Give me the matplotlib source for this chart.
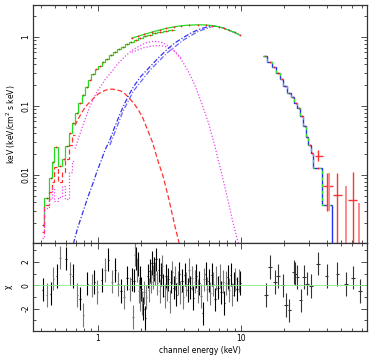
import numpy as np
import matplotlib.pyplot as plt
from matplotlib.ticker import NullFormatter, FixedLocator

# total model, soft data set (bin edges keV, values keV^2 ph/cm2/s/keV)
tot1_edges = [0.404, 0.421, 0.454, 0.479, 0.495, 0.527, 0.563, 0.588, 0.627, 0.655,
              0.69, 0.73, 0.77, 0.81, 0.855, 0.90, 0.95, 1.0, 1.06, 1.12,
              1.19, 1.27, 1.35, 1.44, 1.54, 1.65, 1.77, 1.9, 2.05, 2.2,
              2.4, 2.6, 2.85, 3.1, 3.45]
tot1_vals = [0.0019, 0.0046, 0.009, 0.0156, 0.0252, 0.0135, 0.0169, 0.0263, 0.040, 0.057,
             0.079, 0.11, 0.144, 0.188, 0.238, 0.29, 0.34, 0.38, 0.43, 0.48,
             0.54, 0.6, 0.66, 0.72, 0.78, 0.84, 0.9, 0.96, 1.02, 1.08,
             1.14, 1.19, 1.23, 1.26]

# blackbody component (soft data set)
bb_edges = [0.404, 0.421, 0.454, 0.479, 0.495, 0.527, 0.563, 0.588, 0.627, 0.655, 0.69]
bb_lo = [0.0015, 0.0037, 0.0057, 0.008, 0.013, 0.008, 0.011, 0.017, 0.027, 0.038]
bb_e = [0.69, 0.73, 0.77, 0.81, 0.855, 0.90, 0.95, 1.0, 1.06, 1.12,
        1.19, 1.27, 1.35, 1.44, 1.54, 1.65, 1.77, 1.9, 2.05, 2.2,
        2.4, 2.6, 2.85, 3.1, 3.45, 3.7]
bb_f = [0.052, 0.066, 0.08, 0.095, 0.108, 0.12, 0.135, 0.148, 0.16, 0.168,
        0.174, 0.175, 0.17, 0.165, 0.15, 0.13, 0.11, 0.09, 0.068, 0.047,
        0.03, 0.017, 0.0095, 0.0048, 0.0018, 0.001]

# second thermal component
th1_edges = [0.404, 0.421, 0.454, 0.479, 0.495, 0.527, 0.563, 0.588, 0.627, 0.655, 0.69]
th1_lo = [0.0012, 0.0033, 0.0045, 0.0065, 0.0042, 0.0048, 0.0068, 0.0045, 0.011, 0.016]
th1_e = [0.69, 0.73, 0.77, 0.81, 0.855, 0.90, 0.95, 1.0, 1.06, 1.12,
         1.19, 1.27, 1.35, 1.44, 1.54, 1.65, 1.77, 1.9, 2.05, 2.2,
         2.4, 2.6, 2.85, 3.1, 3.45, 3.8, 4.3, 4.8, 5.3, 5.9,
         6.5, 7.2, 8.0, 8.8, 9.6]
th1_f = [0.024, 0.034, 0.047, 0.063, 0.085, 0.11, 0.14, 0.17, 0.2, 0.24,
         0.28, 0.33, 0.39, 0.45, 0.52, 0.59, 0.66, 0.72, 0.78, 0.83,
         0.86, 0.86, 0.82, 0.74, 0.61, 0.48, 0.31, 0.19, 0.11, 0.058,
         0.028, 0.012, 0.0048, 0.002, 0.001]
th2_e = [1.72, 1.9, 2.1, 2.4, 2.7, 3.0, 3.4, 3.8]
th2_f = [0.6, 0.65, 0.7, 0.74, 0.75, 0.72, 0.63, 0.5]

# hard (power-law) component
pl1_e = [0.672, 0.72, 0.78, 0.85, 0.92, 0.98, 1.05, 1.12, 1.21, 1.3,
         1.4, 1.5, 1.63, 1.77, 2.0, 2.31, 2.65, 3.02, 3.45, 3.95,
         4.4, 5.0, 5.6, 6.2, 6.8, 7.5, 8.3, 9.1, 9.85]
pl1_f = [0.001, 0.0017, 0.0028, 0.0048, 0.0075, 0.011, 0.016, 0.023, 0.032, 0.048,
         0.07, 0.098, 0.14, 0.19, 0.27, 0.37, 0.5, 0.65, 0.82, 0.98,
         1.12, 1.27, 1.37, 1.43, 1.42, 1.35, 1.24, 1.15, 1.07]
pl2_e = [1.21, 1.5, 1.77, 2.31, 3.02, 3.95, 5.0, 6.2]
pl2_f = [0.027, 0.085, 0.165, 0.33, 0.58, 0.9, 1.2, 1.4]

# total model, second data set
tot2_e = [1.72, 1.9, 2.1, 2.4, 2.7, 3.0, 3.4, 3.8, 4.3, 5.0,
          5.7, 6.3, 7.0, 7.6, 8.3, 9.0, 9.9]
tot2_f = [0.96, 1.02, 1.09, 1.18, 1.26, 1.33, 1.40, 1.45, 1.48, 1.50,
          1.49, 1.46, 1.40, 1.33, 1.24, 1.16, 1.05]

# hard X-ray model (bin edges) and data
hx_edges = [14.35, 15.3, 16.4, 17.6, 18.7, 19.8, 21.1, 22.3, 23.5, 24.8,
            25.9, 27.3, 28.5, 29.6, 30.9, 32.1, 36.6, 43.1]
hx_vals = [0.53, 0.44, 0.364, 0.298, 0.244, 0.195, 0.156, 0.134, 0.112, 0.092,
           0.072, 0.051, 0.036, 0.027, 0.0206, 0.0125, 0.0037]

hxd_e = [34.6, 40.1, 47.2, 60.4]
hxd_elo = [32.9, 37.6, 43.6, 56.0]
hxd_ehi = [37.2, 43.6, 50.7, 65.0]
hxd_f = [0.019, 0.0068, 0.0051, 0.0044]
hxd_flo = [0.0157, 0.003, 0.0004, 0.0004]
hxd_fhi = [0.023, 0.0106, 0.0106, 0.011]
hxd2_e = [41.0, 53.9, 66.7]
hxd2_f = [0.0068, 0.0025, 0.002]
hxd2_flo = [0.003, 0.0004, 0.0004]
hxd2_fhi = [0.0106, 0.0068, 0.0039]

# residuals (sigma), soft band
res_e = [0.41, 0.437, 0.467, 0.487, 0.514, 0.542, 0.595, 0.637, 0.665, 0.717,
         0.748, 0.789, 0.842, 0.904, 0.942, 0.989, 1.06, 1.12, 1.18, 1.25,
         1.32, 1.38, 1.45, 1.52, 1.6, 1.66, 1.72, 1.75, 1.78,
         1.80, 1.83, 1.86, 1.89, 1.92, 1.95, 1.98, 2.01, 2.04, 2.07,
         2.10, 2.14, 2.18, 2.22, 2.26, 2.30, 2.34, 2.38, 2.42, 2.46,
         2.50, 2.55, 2.60, 2.65, 2.70, 2.75, 2.80, 2.86, 2.92, 2.98,
         3.04, 3.10, 3.17, 3.24, 3.31, 3.38, 3.45, 3.53, 3.61, 3.69,
         3.77, 3.86, 3.95, 4.04, 4.13, 4.23, 4.33, 4.43, 4.54, 4.65,
         4.76, 4.88, 5.00, 5.12, 5.25, 5.38, 5.51, 5.65, 5.79, 5.94,
         6.09, 6.24, 6.40, 6.56, 6.73, 6.90, 7.08, 7.26, 7.45, 7.64,
         7.84, 8.04, 8.25, 8.46, 8.68, 8.90, 9.13, 9.37, 9.61, 9.86]
res_v = [-0.37, -0.85, -0.71, 0.57, 0.77, 2.36, 2.27, 1.0, 0.8, -0.85,
         -1.13, -2.55, 0.14, 0.0, 0.28, -0.57, 0.43, 1.28, 2.19, 0.3,
         1.3, 0.1, -0.5, -1.0, 0.6, -0.3, 0.5, -2.7, 0.4,
         2.6, 2.3, 1.3, 1.8, -0.5, 0.6, -1.2, -0.3, -1.5, -2.0,
         -0.6, -2.8, -1.0, 0.8, -0.4, 1.2, 0.3, 1.9, 0.7, 1.4,
         1.0, 2.2, 0.2, 1.3, -0.5, 0.9, 1.6, 0.0, -0.9, 0.8,
         -0.3, 0.5, -1.4, 0.3, 1.1, -0.2, 0.6, -0.8, 0.2, 1.0,
         -0.6, 0.4, -1.0, 0.9, 0.1, -0.4, 1.3, -0.2, 0.6, -1.1,
         0.3, 0.8, -0.5, 0.2, -0.9, -2.4, 0.5, 1.0, -0.3, 0.4,
         -0.7, 0.9, 0.1, -1.2, 0.6, -0.2, 0.8, -0.6, 0.3, -1.5,
         0.2, 0.7, -0.4, 0.9, -0.8, 0.1, 0.5, -0.3, 0.4, 0.2]
# residuals (sigma), hard band
res2_e = [14.9, 15.9, 17.3, 18.2, 19.6, 20.7, 21.8, 23.3, 24.0, 24.8,
          26.1, 27.6, 29.0, 30.9, 34.6, 39.6, 47.2, 53.9, 60.4, 67.8]
res2_v = [-0.85, 1.56, 0.28, 0.8, 0.0, -1.7, -2.13, 1.13, 1.0, 0.71,
          -1.28, 0.71, 0.14, -0.08, 1.85, 0.8, 0.94, 0.1, 0.65, -0.48]

fig = plt.figure(figsize=(3.73, 3.58), dpi=100)
ax = fig.add_axes([0.0885, 0.3212, 0.8955, 0.6648])
axr = fig.add_axes([0.0885, 0.0754, 0.8955, 0.2458], sharex=ax)

lw = 0.9
dash = (0, (4, 2))
dot = (0, (1, 1.5))
dashdot = (0, (4, 1.5, 1, 1.5))
ax.stairs(tot1_vals, tot1_edges, color='#22dd22', lw=lw, baseline=None)
ax.stairs(bb_lo, bb_edges, color='#ff3333', lw=lw, ls=dash, baseline=None)
ax.plot(bb_e, bb_f, color='#ff3333', lw=lw, ls=dash)
ax.stairs(th1_lo, th1_edges, color='#ee44ee', lw=lw, ls=dot, baseline=None)
ax.plot(th1_e, th1_f, color='#ee44ee', lw=lw, ls=dot)
ax.plot(th2_e, th2_f, color='#ee44ee', lw=lw, ls=dot)
ax.plot(pl1_e, pl1_f, color='#3333ee', lw=lw, ls=dashdot)
ax.plot(pl2_e, pl2_f, color='#6666ff', lw=lw, ls=dashdot)
ax.plot(tot2_e, tot2_f, color='#22dd22', lw=lw)

# data points on top of the soft model
cen1 = np.sqrt(np.array(tot1_edges[:-1]) * np.array(tot1_edges[1:]))
ax.plot(cen1, tot1_vals, '+', color='#ff2222', ms=2, mew=0.5)
ax.plot(tot2_e, tot2_f, '+', color='#ff2222', ms=2, mew=0.5)

# hard X-ray model and data
ax.stairs(hx_vals, hx_edges, color='#2233ee', lw=1.0, baseline=None)
ax.stairs(hx_vals, hx_edges, color='#33dd33', lw=0.8, ls=(0, (3, 3)), baseline=None)
ax.vlines(hx_edges[-1], 1e-4, hx_vals[-1], color='#2233ee', lw=1.0)
hcen = np.sqrt(np.array(hx_edges[:-1]) * np.array(hx_edges[1:]))
ax.plot(hcen, hx_vals, '+', color='#ff2222', ms=2, mew=0.5)
ax.errorbar(hxd_e, hxd_f,
            xerr=[np.array(hxd_e) - np.array(hxd_elo), np.array(hxd_ehi) - np.array(hxd_e)],
            yerr=[np.array(hxd_f) - np.array(hxd_flo), np.array(hxd_fhi) - np.array(hxd_f)],
            fmt='none', ecolor='#ff3333', elinewidth=1.0)
ax.errorbar(hxd2_e, hxd2_f,
            yerr=[np.array(hxd2_f) - np.array(hxd2_flo), np.array(hxd2_fhi) - np.array(hxd2_f)],
            fmt='none', ecolor='#ff8888', elinewidth=1.4)

ax.set_xscale('log')
ax.set_yscale('log')
ax.set_xlim(0.351, 76)
ax.set_ylim(1.03e-3, 2.9)
ax.set_yticks([0.01, 0.1, 1])
ax.set_yticklabels(['0.01', '0.1', '1'], rotation=90, va='center')
ax.set_ylabel('keV (keV/cm$^2$ s keV)', fontsize=5.5, labelpad=2)
ax.tick_params(labelbottom=False)

# residuals
res_e = np.array(res_e)
res_v = np.array(res_v)
axr.errorbar(res_e[::2], res_v[::2], yerr=1, xerr=res_e[::2] * 0.012,
             fmt='none', ecolor='black', elinewidth=0.8)
axr.errorbar(res_e[1::2], res_v[1::2], yerr=1, xerr=res_e[1::2] * 0.012,
             fmt='none', ecolor='#777777', elinewidth=0.8)
res2_e = np.array(res2_e)
axr.errorbar(res2_e, res2_v, yerr=1, xerr=res2_e * 0.03,
             fmt='none', ecolor='#333333', elinewidth=0.8)
axr.axhline(0, color='#88ee88', lw=0.6)
axr.set_ylim(-3.9, 3.6)
axr.yaxis.set_major_locator(FixedLocator([-2, 0, 2]))
axr.yaxis.set_minor_locator(FixedLocator([-3, -1, 1, 3]))
axr.set_yticklabels(['-2', '0', '2'], rotation=90, va='center')
axr.set_ylabel('χ', fontsize=5.5, labelpad=6)
axr.set_xlabel('channel energy (keV)', fontsize=5.5, labelpad=2)
axr.set_xticks([1, 10])
axr.set_xticklabels(['1', '10'])
axr.xaxis.set_minor_formatter(NullFormatter())

for a in (ax, axr):
    a.tick_params(which='both', direction='in', top=True, right=True,
                  labelsize=5.5, width=0.6, color='#333333', pad=2)
    a.tick_params(which='major', length=4)
    a.tick_params(which='minor', length=2)
    for s in a.spines.values():
        s.set_linewidth(0.9)
        s.set_color('#333333')

fig.savefig('out.png', dpi=100)
